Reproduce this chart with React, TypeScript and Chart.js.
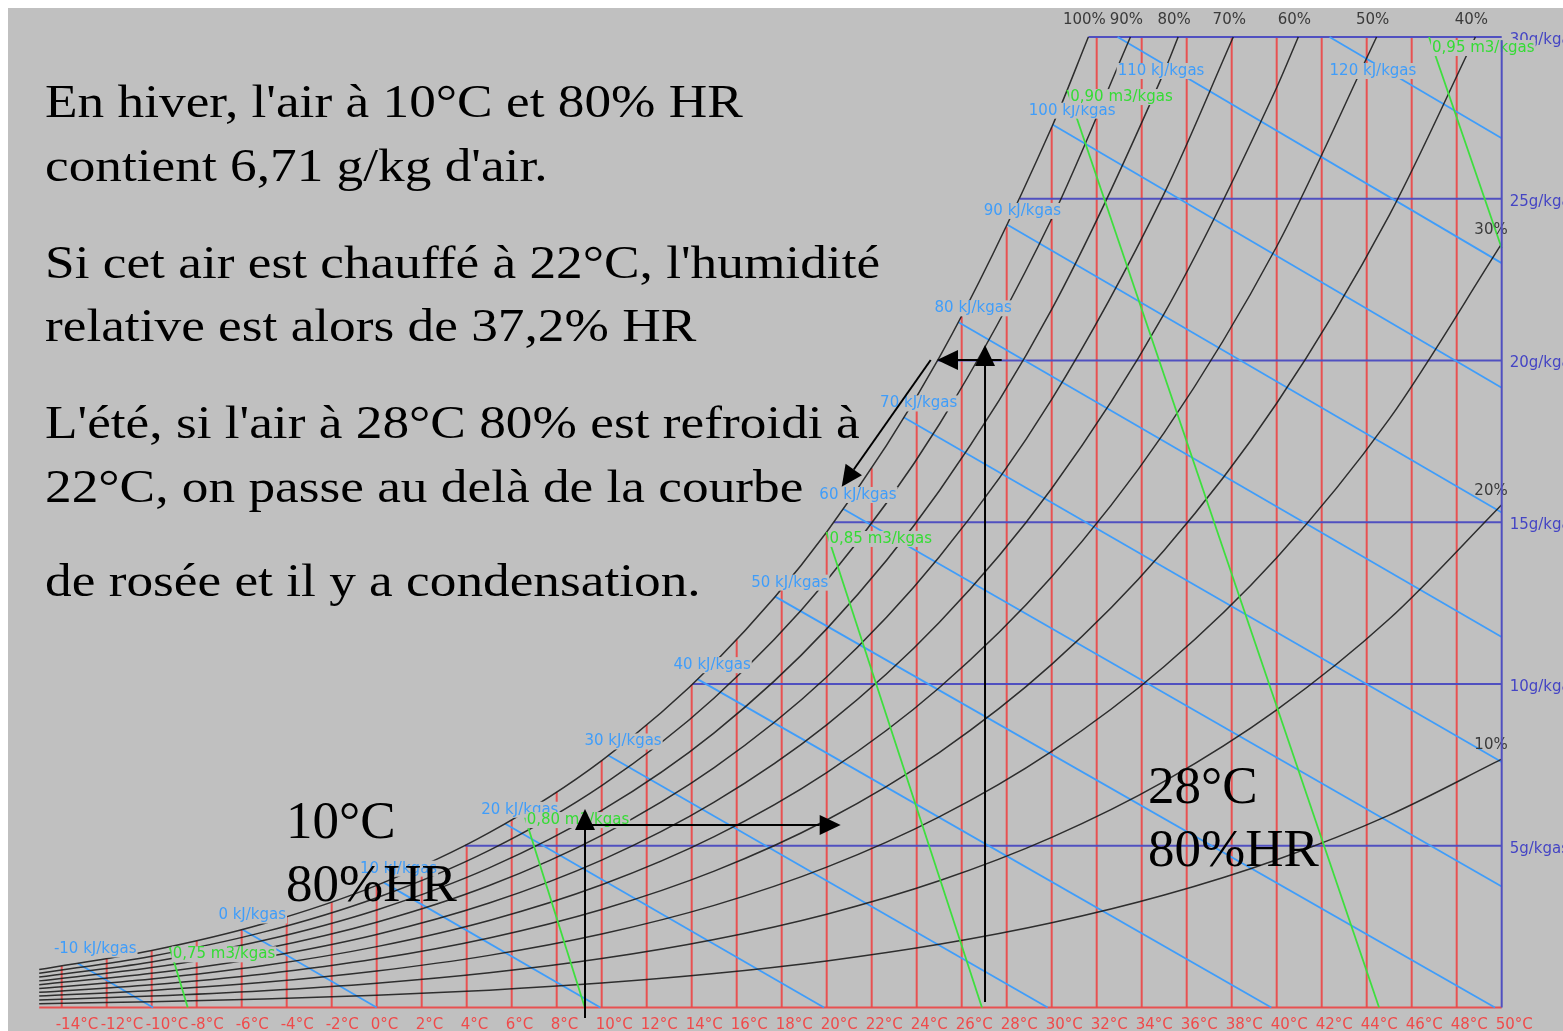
import React, { useEffect, useRef } from 'react';
import { Chart, registerables } from 'chart.js';

Chart.register(...registerables);

// ---------- DATA ----------
// Relative-humidity curves, humidity ratio (g/kg) sampled at these temperatures (°C)
const RH_TEMPS = [-15, -10, -5, 0, 5, 10, 15, 20, 25, 30, 35, 40, 45, 50];
const RH_LEVELS = [100, 90, 80, 70, 60, 50, 40, 30, 20, 10];
const RH_100 = [1.176, 1.764, 2.598, 3.775, 5.403, 7.632, 10.651, 14.699, 20.087, 27.21];
const RH_90 = [1.058, 1.587, 2.337, 3.395, 4.859, 6.86, 9.569, 13.198, 18.021, 24.382];
const RH_80 = [0.94, 1.41, 2.077, 3.016, 4.315, 6.091, 8.491, 11.704, 15.967, 21.579, 28.93];
const RH_70 = [0.823, 1.234, 1.817, 2.638, 3.772, 5.323, 7.417, 10.217, 13.926, 18.8, 25.167];
const RH_60 = [0.705, 1.057, 1.556, 2.259, 3.231, 4.557, 6.347, 8.737, 11.899, 16.045, 21.448, 28.44];
const RH_50 = [0.587, 0.881, 1.296, 1.882, 2.69, 3.793, 5.28, 7.264, 9.884, 13.314, 17.771, 23.524];
const RH_40 = [0.47, 0.704, 1.037, 1.504, 2.15, 3.031, 4.217, 5.797, 7.882, 10.605, 14.136, 18.678, 24.488];
const RH_30 = [0.352, 0.528, 0.777, 1.128, 1.611, 2.27, 3.157, 4.338, 5.893, 7.92, 10.542, 13.904, 18.187, 23.611];
const RH_20 = [0.235, 0.352, 0.518, 0.751, 1.073, 1.512, 2.101, 2.885, 3.916, 5.258, 6.989, 9.201, 12.008, 15.544];
const RH_10 = [0.117, 0.176, 0.259, 0.375, 0.536, 0.755, 1.049, 1.439, 1.952, 2.618, 3.475, 4.567, 5.946, 7.676];
const RH_VALUES = [RH_100, RH_90, RH_80, RH_70, RH_60, RH_50, RH_40, RH_30, RH_20, RH_10];
// temperature where each curve reaches the 30 g/kg top (null = reaches the 50 °C edge)
const RH_TOP_T = [31.63, 33.5, 35.62, 38.07, 40.96, 44.44, 48.83, null, null, null];

// Dry-bulb temperature lines (red): temperature and height reached (g/kg)
const RED_T = [-14, -12, -10, -8, -6, -4, -2, 0, 2, 4, 6, 8, 10, 12, 14, 16, 18, 20, 22, 24, 26, 28, 30, 32, 34, 36, 38, 40, 42, 44, 46, 48];
const RED_TOP = [1.28, 1.505, 1.764, 2.065, 2.407, 2.804, 3.255, 3.775, 4.364, 5.034, 5.795, 6.657, 7.632, 8.732, 9.973, 11.369, 12.938, 14.699, 16.673, 18.884, 21.358, 24.122, 27.21, 30, 30, 30, 30, 30, 30, 30, 30, 30];

// Humidity-ratio lines (blue): value and start temperature on saturation curve
const W_LINES = [5, 10, 15, 20, 25, 30];
const W_START_T = [3.93, 14.04, 20.32, 24.93, 28.59, 31.63];

// Enthalpy lines (kJ/kgas): start (saturation / top) and end points
const ENTH = [-10, 0, 10, 20, 30, 40, 50, 60, 70, 80, 90, 100, 110, 120];
const ENTH_T0 = [-13.28, -5.97, 0.32, 5.71, 10.3, 14.26, 17.71, 20.74, 23.44, 25.86, 28.05, 30.05, 32.93, 42.35];
const ENTH_W0 = [1.36, 2.41, 3.86, 5.68, 7.79, 10.15, 12.7, 15.41, 18.24, 21.18, 24.19, 27.29, 30, 30];
const ENTH_T1 = [-9.94, 0, 9.94, 19.88, 29.82, 39.76, 49.7, 50, 50, 50, 50, 50, 50, 50];
const ENTH_W1 = [0, 0, 0, 0, 0, 0, 0, 3.74, 7.59, 11.45, 15.3, 19.16, 23.01, 26.87];

// Specific volume lines (m3/kgas)
const VOL = ['0,75', '0,80', '0,85', '0,90', '0,95'];
const VOL_T0 = [-9.2, 6.53, 19.99, 30.69, 46.77];
const VOL_W0 = [1.86, 6.01, 14.7, 28.36, 30];
const VOL_T1 = [-8.4, 9.25, 26.9, 44.55, 50];
const VOL_W1 = [0, 0, 0, 0, 23.47];

// Axis tick labels
const X_TICKS = [-14, -12, -10, -8, -6, -4, -2, 0, 2, 4, 6, 8, 10, 12, 14, 16, 18, 20, 22, 24, 26, 28, 30, 32, 34, 36, 38, 40, 42, 44, 46, 48, 50];
const W_TICKS = [5, 10, 15, 20, 25, 30];

// Annotation arrows [T0, w0, T1, w1] (arrowhead at the second point)
const ARROWS = [
  [9.258, -0.325, 9.258, 6.136],
  [9.258, 5.641, 20.622, 5.641],
  [27.036, 0.17, 27.036, 20.479],
  [27.778, 20.015, 24.902, 20.015],
  [24.622, 20.015, 20.667, 16.099],
];

// Texts
const MAIN_TEXT = [
  "En hiver, l'air à 10°C et 80% HR",
  "contient 6,71 g/kg d'air.",
  "Si cet air est chauffé à 22°C, l'humidité",
  'relative est alors de 37,2% HR',
  "L'été, si l'air à 28°C 80% est refroidi à",
  '22°C, on passe au delà de la courbe',
  'de rosée et il y a condensation.',
];
const POINT_TEXT = ['10°C', '80%HR', '28°C', '80%HR'];

// ---------- STYLE / LAYOUT ----------
const W = 1555;
const H = 1023;
const BG = '#c0c0c0';
const RED = 'rgba(236,72,72,0.92)';
const BLUE_H = '#5050c0';
const ENTH_C = '#3f9dfa';
const GREEN = '#3ede3e';
const BLACK = 'rgba(25,25,25,0.88)';
const LABEL_FONT = '15px "DejaVu Sans"';
const MAIN_BASE = [108.5, 172.5, 269.5, 332.5, 429.5, 493.5, 587.5];
const MAIN_X = 37;
const POINT_POS = [
  [278, 830],
  [278, 893],
  [1140, 795],
  [1140, 858],
];

function line(points: { x: number; y: number }[], color: string, width: number, order: number, monotone = false) {
  return {
    data: points,
    showLine: true,
    borderColor: color,
    borderWidth: width,
    pointRadius: 0,
    fill: false,
    order,
    clip: 6,
    cubicInterpolationMode: monotone ? 'monotone' : 'default',
  };
}

function buildDatasets() {
  const ds: any[] = [];
  RED_T.forEach((t, i) => ds.push(line([{ x: t, y: 0 }, { x: t, y: RED_TOP[i] }], RED, 2, 6)));
  ds.push(line([{ x: -15, y: 0 }, { x: 50, y: 0 }], RED, 2, 6));
  W_LINES.forEach((w, i) => ds.push(line([{ x: W_START_T[i], y: w }, { x: 50, y: w }], BLUE_H, 2, 5)));
  ENTH.forEach((h, i) =>
    ds.push(line([{ x: ENTH_T0[i], y: ENTH_W0[i] }, { x: ENTH_T1[i], y: ENTH_W1[i] }], ENTH_C, 1.8, 4)),
  );
  RH_VALUES.forEach((vals, k) => {
    const pts = vals.map((w, i) => ({ x: RH_TEMPS[i], y: w }));
    const top = RH_TOP_T[k];
    if (top !== null) pts.push({ x: top, y: 30 });
    ds.push(line(pts, BLACK, 1.5, 3, true));
  });
  VOL.forEach((v, i) =>
    ds.push(line([{ x: VOL_T0[i], y: VOL_W0[i] }, { x: VOL_T1[i], y: VOL_W1[i] }], GREEN, 1.8, 2)),
  );
  return ds;
}

function drawArrow(ctx: CanvasRenderingContext2D, x1: number, y1: number, x2: number, y2: number) {
  const ang = Math.atan2(y2 - y1, x2 - x1);
  const len = 21;
  const hw = 10;
  const bx = x2 - len * Math.cos(ang);
  const by = y2 - len * Math.sin(ang);
  ctx.strokeStyle = '#000';
  ctx.lineWidth = 2;
  ctx.beginPath();
  ctx.moveTo(x1, y1);
  ctx.lineTo(bx, by);
  ctx.stroke();
  ctx.fillStyle = '#000';
  ctx.beginPath();
  ctx.moveTo(x2, y2);
  ctx.lineTo(bx + hw * Math.sin(ang), by - hw * Math.cos(ang));
  ctx.lineTo(bx - hw * Math.sin(ang), by + hw * Math.cos(ang));
  ctx.closePath();
  ctx.fill();
}

const overlayPlugin = {
  id: 'psyOverlay',
  afterDatasetsDraw(chart: any) {
    const ctx: CanvasRenderingContext2D = chart.ctx;
    const xs = chart.scales.x;
    const ys = chart.scales.y;
    const px = (t: number) => xs.getPixelForValue(t);
    const py = (w: number) => ys.getPixelForValue(w);
    ctx.save();
    ctx.textBaseline = 'middle';
    ctx.textAlign = 'left';
    const label = (text: string, x: number, y: number, color: string, align: string, bg: boolean) => {
      ctx.font = LABEL_FONT;
      const tw = ctx.measureText(text).width;
      const left = align === 'left' ? x : align === 'center' ? x - tw / 2 : x - tw;
      if (bg) {
        ctx.fillStyle = BG;
        ctx.fillRect(left - 1, y - 8, tw + 2, 16);
      }
      ctx.fillStyle = color;
      ctx.fillText(text, left, y);
    };
    X_TICKS.forEach((t) => label(`${t}°C`, px(t) - 6, py(0) + 17.5, '#f04a4a', 'left', false));
    W_TICKS.forEach((w) => label(`${w}g/kgas`, px(50) + 8, py(w) + 3, '#4444c4', 'left', false));
    RH_LEVELS.forEach((r, k) => {
      const top = RH_TOP_T[k];
      if (top !== null) {
        label(`${r}%`, px(top) - 4, py(30) - 17, '#3a3a3a', 'center', false);
      } else {
        const vals = RH_VALUES[k];
        label(`${r}%`, px(50) + 6, py(vals[vals.length - 1]) - 14, '#3a3a3a', 'right', false);
      }
    });
    ENTH.forEach((h, i) => {
      const x0 = px(ENTH_T0[i]);
      const y0 = py(ENTH_W0[i]);
      if (ENTH_W0[i] >= 30) label(`${h} kJ/kgas`, x0, y0 + 34, ENTH_C, 'left', true);
      else label(`${h} kJ/kgas`, x0 - 24, y0 - 14, ENTH_C, 'left', true);
    });
    VOL.forEach((v, i) => {
      const x0 = px(VOL_T0[i]);
      const y0 = py(VOL_W0[i]);
      label(`${v} m3/kgas`, x0 + 3, y0 + (VOL_W0[i] >= 30 ? 11 : 7), '#34dc34', 'left', true);
    });
    ctx.strokeStyle = BLUE_H;
    ctx.lineWidth = 2;
    ctx.beginPath();
    ctx.moveTo(px(50), py(0));
    ctx.lineTo(px(50), py(29.9));
    ctx.stroke();
    ARROWS.forEach((a) => drawArrow(ctx, px(a[0]), py(a[1]), px(a[2]), py(a[3])));
    ctx.fillStyle = '#000';
    ctx.textBaseline = 'alphabetic';
    ctx.font = '47px "Liberation Serif"';
    MAIN_TEXT.forEach((t, i) => {
      ctx.save();
      ctx.translate(MAIN_X, MAIN_BASE[i]);
      ctx.scale(1.134, 1);
      ctx.fillText(t, 0, 0);
      ctx.restore();
    });
    ctx.font = '53px "Liberation Serif"';
    POINT_TEXT.forEach((t, i) => ctx.fillText(t, POINT_POS[i][0], POINT_POS[i][1]));
    ctx.restore();
  },
};

export default function App() {
  const ref = useRef<HTMLCanvasElement | null>(null);
  useEffect(() => {
    if (!ref.current) return;
    const chart = new Chart(ref.current, {
      type: 'scatter',
      data: { datasets: buildDatasets() },
      options: {
        animation: false,
        responsive: false,
        maintainAspectRatio: false,
        devicePixelRatio: 1,
        layout: { padding: { left: 31.2, right: 61.3, top: 29, bottom: 23.5 } },
        scales: {
          x: { type: 'linear', min: -15, max: 50, display: false },
          y: { type: 'linear', min: 0, max: 30, display: false },
        },
        plugins: { legend: { display: false }, tooltip: { enabled: false } },
        elements: { point: { radius: 0 } },
      },
      plugins: [overlayPlugin],
    } as any);
    return () => chart.destroy();
  }, []);
  return (
    <div style={{ position: 'fixed', left: 8, top: 8, width: W, height: H, background: BG, overflow: 'hidden' }}>
      <canvas ref={ref} width={W} height={H} style={{ width: W, height: H, display: 'block' }} />
    </div>
  );
}
